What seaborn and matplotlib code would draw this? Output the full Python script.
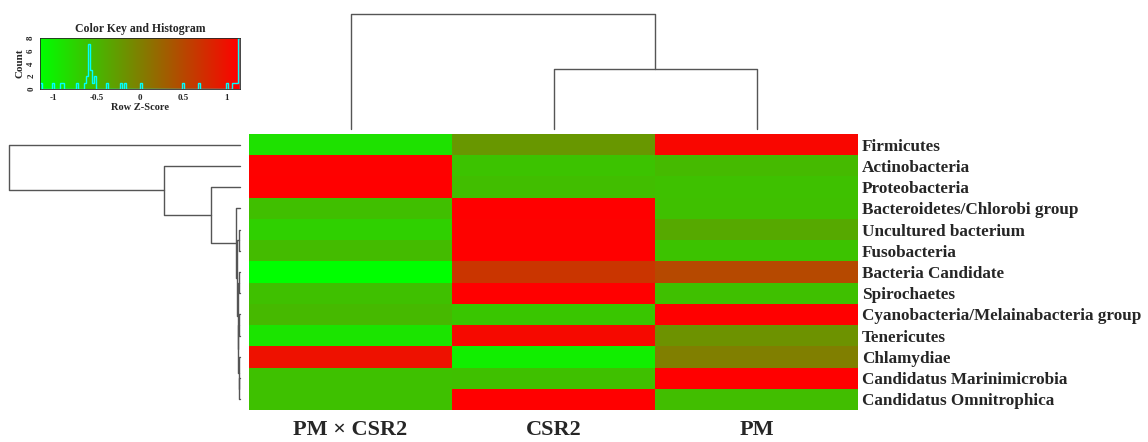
import numpy as np
import pandas as pd
import matplotlib
matplotlib.use('Agg')
import matplotlib.pyplot as plt
from matplotlib.colors import LinearSegmentedColormap
import seaborn as sns

sns.set_style("white")
plt.rcParams['font.family'] = ['Liberation Serif', 'DejaVu Serif']
plt.rcParams['font.weight'] = 'bold'

# ---------------- data (row z-scores) ----------------
phyla = ['Firmicutes', 'Actinobacteria', 'Proteobacteria',
         'Bacteroidetes/Chlorobi group', 'Uncultured bacterium', 'Fusobacteria',
         'Bacteria Candidate', 'Spirochaetes', 'Cyanobacteria/Melainabacteria group',
         'Tenericutes', 'Chlamydiae', 'Candidatus Marinimicrobia',
         'Candidatus Omnitrophica']
groups = ['PM × CSR2', 'CSR2', 'PM']

z_pm_csr2 = [-0.88, 1.14, 1.155, -0.570, -0.73, -0.54, -1.155, -0.580, -0.52, -0.91, 1.00, -0.595, -0.588]
z_csr2 = [-0.21, -0.61, -0.565, 1.155, 1.13, 1.155, 0.67, 1.155, -0.64, 1.07, -1.00, -0.582, 1.155]
z_pm = [1.10, -0.53, -0.590, -0.585, -0.37, -0.605, 0.49, -0.578, 1.15, -0.17, 0.00, 1.155, -0.567]

# dendrogram merges: leaves 0..n-1, new nodes numbered n, n+1, ...
row_left = [11, 10, 8, 15, 6, 17, 4, 19, 3, 2, 1, 0]
row_right = [12, 13, 9, 14, 7, 16, 5, 18, 20, 21, 22, 23]
row_height = [0.3, 0.5, 0.4, 0.7, 0.5, 0.9, 0.6, 1.1, 1.6, 12.5, 32.8, 100.0]

col_left = [1, 0]
col_right = [2, 3]
col_height = [52.0, 100.0]

# ---------------------------------------------------------------------------
df = pd.DataFrame({'PM × CSR2': z_pm_csr2, 'CSR2': z_csr2, 'PM': z_pm}, index=phyla)
zmax = np.abs(df.values).max()
cmap = LinearSegmentedColormap.from_list('gr', ['#00FF00', '#FF0000'])

W, H = 1148, 442
fig = plt.figure(figsize=(W / 100, H / 100), dpi=100)


def box(x0, y0, x1, y1):
    # pixel box (top-left origin) -> figure fraction rect
    return [x0 / W, (H - y1) / H, (x1 - x0) / W, (y1 - y0) / H]


ax_hm = fig.add_axes(box(249, 134, 858, 410))
ax_col = fig.add_axes(box(249, 14, 858, 129))
ax_row = fig.add_axes(box(9, 134, 240, 410))
ax_key = fig.add_axes(box(40, 38, 240, 89))

# main heatmap
sns.heatmap(df, ax=ax_hm, cmap=cmap, vmin=-zmax, vmax=zmax, cbar=False,
            xticklabels=groups, yticklabels=phyla)
ax_hm.yaxis.tick_right()
ax_hm.tick_params(axis='both', length=0)
ax_hm.tick_params(axis='y', pad=3)
ax_hm.tick_params(axis='x', pad=7)
for t in ax_hm.get_yticklabels():
    t.set_rotation(0)
    t.set_fontsize(12.3)
    t.set_fontweight('bold')
for t in ax_hm.get_xticklabels():
    t.set_rotation(0)
    t.set_fontsize(16)
    t.set_fontweight('bold')
ax_hm.set_xlabel('')
ax_hm.set_ylabel('')


def draw_dendro(ax, n, left, right, height, orient):
    pos = {i: i + 0.5 for i in range(n)}
    hgt = {i: 0.0 for i in range(n)}
    for k, (a, b, h) in enumerate(zip(left, right, height)):
        xs = [pos[a], pos[a], pos[b], pos[b]]
        ys = [hgt[a], h, h, hgt[b]]
        if orient == 'top':
            ax.plot(xs, ys, color='#555555', lw=1, clip_on=False)
        else:
            ax.plot(ys, xs, color='#555555', lw=1, clip_on=False)
        pos[n + k] = (pos[a] + pos[b]) / 2
        hgt[n + k] = h


draw_dendro(ax_col, len(groups), col_left, col_right, col_height, 'top')
ax_col.set_xlim(0, len(groups))
ax_col.set_ylim(0, max(col_height))
ax_col.axis('off')

draw_dendro(ax_row, len(phyla), row_left, row_right, row_height, 'left')
ax_row.set_ylim(len(phyla), 0)
ax_row.set_xlim(max(row_height), 0)
ax_row.axis('off')

# colour key + histogram
grad = np.linspace(-zmax, zmax, 256)[None, :]
ax_key.imshow(grad, extent=[-zmax, zmax, 0, 8], aspect='auto', cmap=cmap,
              vmin=-zmax, vmax=zmax)
edges = np.linspace(-zmax, zmax, 101)
counts, _ = np.histogram(df.values.ravel(), bins=edges)
ax_key.stairs(counts, edges, color='cyan', lw=1, baseline=0)
ax_key.set_xlim(-zmax, zmax)
ax_key.set_ylim(0, 8)
ax_key.set_xticks([-1, -0.5, 0, 0.5, 1])
ax_key.set_xticklabels(['-1', '-0.5', '0', '0.5', '1'], fontsize=6.5, fontweight='bold')
ax_key.set_yticks([0, 2, 4, 6, 8])
ax_key.set_yticklabels(['0', '2', '4', '6', '8'], fontsize=6.5, fontweight='bold',
                       rotation=90, va='center')
ax_key.tick_params(length=2, pad=1.5)
ax_key.set_xlabel('Row Z-Score', fontsize=7.5, fontweight='bold', labelpad=1)
ax_key.set_ylabel('Count', fontsize=8, fontweight='bold', labelpad=2)
ax_key.set_title('Color Key and Histogram', fontsize=8.5, fontweight='bold', pad=4)
for s in ax_key.spines.values():
    s.set_linewidth(0.6)

fig.savefig('out.png', dpi=100)
